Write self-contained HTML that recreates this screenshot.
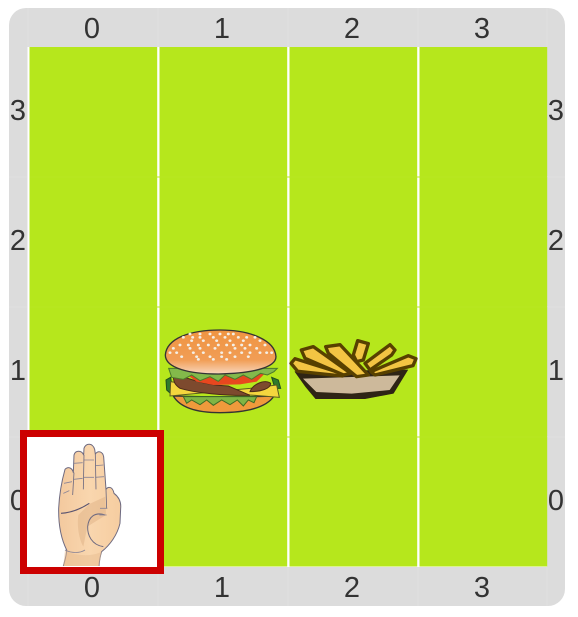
<!DOCTYPE html>
<html>
<head>
<meta charset="utf-8">
<style>
html,body{margin:0;padding:0;background:#fff;width:578px;height:617px;overflow:hidden}
svg{display:block}
text{font-family:"Liberation Sans",Arial,sans-serif;font-size:29px;fill:#333;text-anchor:middle}
</style>
</head>
<body>
<svg id="board" xmlns="http://www.w3.org/2000/svg" width="578" height="617" viewBox="0 0 578 617">
  <defs>
    <linearGradient id="bun-fill" x1="0" y1="0" x2="0" y2="1">
      <stop offset="0" stop-color="#ef9441"/>
      <stop offset=".68" stop-color="#f19d55"/>
      <stop offset="1" stop-color="#f8d6bd"/>
    </linearGradient>
    <linearGradient id="palm-fill" x1="0" y1="0" x2="1" y2="0">
      <stop offset="0" stop-color="#f3c99e"/>
      <stop offset=".5" stop-color="#f9d6ae"/>
      <stop offset="1" stop-color="#f6cda0"/>
    </linearGradient>
  </defs>
  <rect x="9" y="8" width="556" height="598" rx="17" fill="#dcdcdc"/>
  <g id="frame-lines"></g>
  <rect x="27.5" y="47" width="519.5" height="520" fill="#fff"/>
  <g id="cells"></g>
  <g id="labels"></g>

  <g transform="translate(150 320) scale(.3333)">
    <path d="M48 180 L62 172 L70 228 L50 210Z M365 172 L385 180 L392 205 L375 205Z" fill="#2f7a2c" stroke="#1f4f1f" stroke-width="3"/>
    <path d="M70 228 C130 230 300 232 372 228 C350 262 290 278 210 278 C140 278 90 262 70 228Z" fill="#ef9a3c" stroke="#333" stroke-width="4"/>
    <path d="M100 230 L320 230 L312 248 L295 240 L280 258 L262 240 L240 254 L215 240 L190 256 L170 240 L150 254 L125 240 L110 250Z" fill="#7fb544" stroke="#3f6a25" stroke-width="3"/>
    <path d="M62 185 L300 225 L388 232 L380 195 L300 205 L60 228Z" fill="#f4d63e" stroke="#5a5a20" stroke-width="3"/>
    <path d="M70 168 C110 165 140 195 235 198 L300 226 C230 228 130 218 90 205 C75 195 70 185 70 168Z" fill="#7d4a2e" stroke="#4a2a18" stroke-width="3"/>
    <path d="M300 215 C310 190 345 178 362 190 C362 205 335 215 300 215Z" fill="#7d4a2e" stroke="#4a2a18" stroke-width="3"/>
    <path d="M112 165 L345 160 L320 185 L270 193 L190 195 L140 185Z" fill="#e8471f"/>
    <path d="M56 145 L382 145 L372 155 L352 165 L332 160 L305 178 L280 165 L255 178 L225 165 L205 184 L180 170 L150 182 L125 165 L100 178 L65 172Z" fill="#83b94b" stroke="#4c7a2b" stroke-width="3"/>
    <path d="M46 105 C50 55 120 30 210 30 C300 30 375 60 378 110 C378 145 300 160 205 162 C120 162 46 145 46 105Z" fill="url(#bun-fill)" stroke="#333" stroke-width="4"/>
    <g id="seeds" fill="#f4efe6"></g>
  </g>

  <g transform="translate(285 330) scale(.3333)">
    <path d="M30 125 L368 120 L325 190 L240 206 L92 206 L62 170Z" fill="#2e2415" stroke="#2e2415" stroke-width="2" stroke-linejoin="round"/>
    <path d="M54 146 L344 136 L314 180 L200 191 L94 186 L70 162Z" fill="#cdb99b"/>
    <g fill="#f3c443" stroke="#574000" stroke-width="10" stroke-linejoin="round">
      <path d="M18 100 L30 86 L170 130 L172 138 L38 124Z"/>
      <path d="M49 60 L85 50 L197 130 L176 135 L60 85Z"/>
      <path d="M122 50 L165 44 L250 135 L215 140 L130 70Z"/>
      <path d="M205 75 L218 32 L250 41 L235 90 L215 95Z"/>
      <path d="M240 100 L315 44 L330 60 L320 75 L255 120Z"/>
      <path d="M258 125 L370 77 L393 86 L384 107 L270 135Z"/>
    </g>
  </g>

  <g>
    <rect x="23.5" y="433.5" width="137" height="137" fill="#fff" stroke="#cc0000" stroke-width="7"/>
    <g transform="translate(0 400) scale(.3333)">
      <path d="M190 498 C195 480 200 465 200 450 C185 420 175 380 176 325 C178 285 186 240 195 208 C205 198 217 204 220 218 L222 165 C226 150 245 150 251 165 L252 145 C258 128 278 128 284 148 L286 162 C295 150 308 155 311 170 L318 268 C325 258 338 260 342 280 C355 290 364 305 362 325 L360 370 C352 405 330 435 305 455 C300 470 298 485 297 498Z" fill="url(#palm-fill)"/>
      <path d="M190 498 C195 480 200 465 200 450 C185 420 175 380 176 325 C178 285 186 240 195 208 C205 198 217 204 220 218 L222 165 C226 150 245 150 251 165 L252 145 C258 128 278 128 284 148 L286 162 C295 150 308 155 311 170 L318 268 C325 258 338 260 342 280 C355 290 364 305 362 325 L360 370 C352 405 330 435 305 455 C300 470 298 485 297 498" fill="none" stroke="#6e6a80" stroke-width="3" stroke-linejoin="round"/>
      <path d="M235 345 L268 312 L316 290 L318 345 L262 380 L250 440 C238 420 230 380 235 345Z" fill="#e3b78c" opacity=".6"/>
      <path d="M195 450 C225 470 280 470 305 455 L297 498 L190 498Z" fill="#e8bd92" opacity=".5"/>
      <path d="M310 440 C275 435 262 405 263 380 C266 350 285 335 315 345" fill="none" stroke="#6e6a80" stroke-width="3"/>
      <path d="M183 340 C215 338 245 325 268 310" fill="none" stroke="#5a5470" stroke-width="3.5"/>
      <path d="M300 325 L322 325 M298 345 L320 345 M195 450 C215 460 240 460 255 450 M190 280 L208 272 M192 250 L216 245 M222 238 L248 235 M222 190 L248 188 M252 232 L282 232 M252 180 L282 180 M286 232 L312 230 M286 197 L310 195" fill="none" stroke="#8a8496" stroke-width="2.5"/>
      <path d="M222 218 L218 285 M252 165 L250 268 M286 162 L288 268 M318 268 L320 325" fill="none" stroke="#6e6a80" stroke-width="2.5"/>
    </g>
  </g>
</svg>
<script>
var columnLabels = [0, 1, 2, 3];
var rowLabels = [3, 2, 1, 0];
var NS = 'http://www.w3.org/2000/svg';
var labelLeft = 28, gridTop = 47, cellSize = 130, gutter = 2.3;
function xPos(col) { return labelLeft + col * cellSize; }
function yPos(row) { return gridTop + row * cellSize; }

var cells = document.getElementById('cells');
rowLabels.forEach(function (rowLabel, r) {
  columnLabels.forEach(function (colLabel, c) {
    var cell = document.createElementNS(NS, 'rect');
    cell.setAttribute('x', xPos(c) + gutter - 0.8);
    cell.setAttribute('y', yPos(r));
    cell.setAttribute('width', cellSize - gutter);
    cell.setAttribute('height', cellSize - 0.5);
    cell.setAttribute('fill', '#b6e71c');
    
    
    cells.appendChild(cell);
  });
});
[1, 2, 3].forEach(function (r) {
  var seam = document.createElementNS(NS, 'rect');
  seam.setAttribute('x', 29.5);
  seam.setAttribute('y', yPos(r) - 0.5);
  seam.setAttribute('width', 517.5);
  seam.setAttribute('height', 1);
  seam.setAttribute('fill', '#b8e722');
  
  
  cells.appendChild(seam);
});

var frameLines = document.getElementById('frame-lines');
function addSeam(x, y, w, h) {
  var s = document.createElementNS(NS, 'rect');
  s.setAttribute('x', x);
  s.setAttribute('y', y);
  s.setAttribute('width', w);
  s.setAttribute('height', h);
  s.setAttribute('fill', '#dfdfdf');
  
  
  frameLines.appendChild(s);
}
[0, 1, 2, 3, 4].forEach(function (c) {
  addSeam(xPos(c) - 0.5 - (c === 4 ? 1 : 0), 8, 1, 39);
  addSeam(xPos(c) - 0.5 - (c === 4 ? 1 : 0), 567, 1, 39);
});
[1, 2, 3].forEach(function (r) {
  addSeam(9, yPos(r) - 0.5, 19, 1);
  addSeam(547, yPos(r) - 0.5, 18, 1);
});

var seedsLayer = document.getElementById('seeds');
var seedRows = [
  [42, [120, 150, 180, 210, 235, 250]],
  [52, [100, 128, 150, 190, 225, 265, 290, 315]],
  [62, [125, 160, 200, 240, 280, 330]],
  [75, [90, 115, 145, 175, 205, 230, 250, 275, 300, 345]],
  [85, [70, 120, 150, 195, 255, 285, 320]],
  [98, [60, 80, 130, 160, 215, 240, 275, 300, 330, 350, 365]],
  [110, [95, 140, 180, 215, 255, 295]],
  [118, [145, 190, 230]]
];
seedRows.forEach(function (row) {
  row[1].forEach(function (x) {
    var seed = document.createElementNS(NS, 'ellipse');
    seed.setAttribute('cx', x);
    seed.setAttribute('cy', row[0]);
    seed.setAttribute('rx', 4.5);
    seed.setAttribute('ry', 4);
    seedsLayer.appendChild(seed);
  });
});

var labels = document.getElementById('labels');
function addLabel(value, x, y, name) {
  var t = document.createElementNS(NS, 'text');
  t.setAttribute('x', x);
  t.setAttribute('y', y);
  t.textContent = value;
  
  
  labels.appendChild(t);
}
columnLabels.forEach(function (v, c) {
  addLabel(v, xPos(c) + cellSize / 2 - 1, 38, 'top-column-label');
  addLabel(v, xPos(c) + cellSize / 2 - 1, 597, 'bottom-column-label');
});
rowLabels.forEach(function (v, r) {
  addLabel(v, 18, yPos(r) + cellSize / 2 + 8, 'left-row-label');
  addLabel(v, 556, yPos(r) + cellSize / 2 + 8, 'right-row-label');
});
</script>
</body>
</html>
